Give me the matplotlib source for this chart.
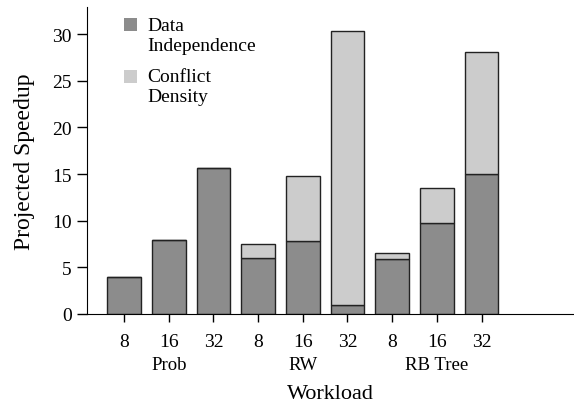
import numpy as np
import matplotlib
matplotlib.use('Agg')
import matplotlib.pyplot as plt
from matplotlib.patches import Rectangle

plt.rcParams['font.family'] = 'Liberation Serif'

# Data
groups = ['Prob', 'RW', 'RB Tree']
threads = ['8', '16', '32']
data_indep = [4.0, 7.9, 15.65, 5.95, 7.8, 1.0, 5.9, 9.8, 15.05]
conflict = [0.0, 0.0, 0.0, 1.5, 7.0, 29.35, 0.65, 3.65, 13.0]
legend_labels = ['Data\nIndependence', 'Conflict\nDensity']

dark = '#8c8c8c'
light = '#cccccc'

W, H = 574, 406
fig = plt.figure(figsize=(W / 100, H / 100), dpi=100)
ax = fig.add_axes([87 / W, 1 - 315 / H, 1 - 87 / W, 307 / H])

x = np.arange(len(data_indep))
w = 0.75
ax.bar(x, data_indep, w, color=dark, edgecolor='#222222', linewidth=1.0)
ax.bar(x, conflict, w, bottom=data_indep, color=light, edgecolor='#222222', linewidth=1.0)

ax.set_xlim(-0.83, 10.07)
ax.set_ylim(0, 32.9)
ax.set_yticks([0, 5, 10, 15, 20, 25, 30])
ax.set_xticks(x)
ax.set_xticklabels(threads * len(groups))
ax.tick_params(axis='both', labelsize=14, direction='out', width=1.0)
ax.tick_params(axis='x', length=6, pad=8)
ax.tick_params(axis='y', length=7, pad=4)

for s in ['top', 'right']:
    ax.spines[s].set_visible(False)

for i, g in enumerate(groups):
    ax.text(3 * i + 1, -0.165, g, transform=ax.get_xaxis_transform(),
            ha='center', va='center', fontsize=13.5)

ax.set_xlabel('Workload', fontsize=16, labelpad=24)
ax.set_ylabel('Projected Speedup', fontsize=17, labelpad=12)

# legend drawn by hand so the swatch sits next to the first line
for (col, top_px, txt_px), lab in zip([(dark, 19, 18), (light, 71, 69)], legend_labels):
    fig.patches.append(Rectangle((124 / W, 1 - (top_px + 13) / H), 13 / W, 13 / H,
                                 transform=fig.transFigure, facecolor=col,
                                 edgecolor='none'))
    fig.text(147 / W, 1 - txt_px / H, lab, ha='left', va='top', fontsize=14,
             linespacing=1.2)

fig.savefig('out.png', dpi=100)
